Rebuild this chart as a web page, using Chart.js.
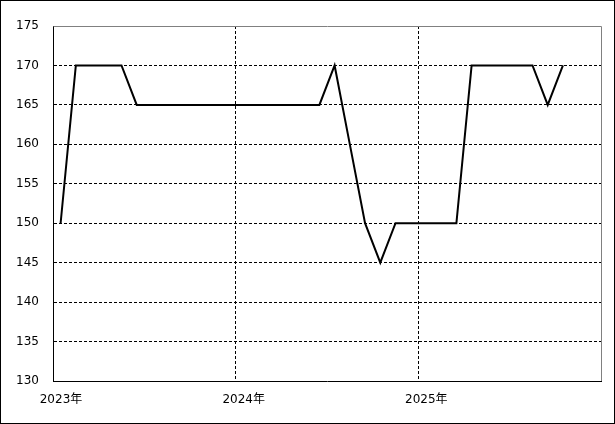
<!DOCTYPE html>
<html>
<head>
<meta charset="utf-8">
<script src="https://cdn.jsdelivr.net/npm/chart.js@4"></script>
<style>
  body { margin: 0; background: #fff; }
  #wrap { width: 615px; height: 424px; }
</style>
</head>
<body>
<div id="wrap"><canvas id="grafico" width="615" height="424"></canvas></div>
<script>
// meses (ene 2023 - oct 2025)
var meses = ["2023-01","2023-02","2023-03","2023-04","2023-05","2023-06","2023-07","2023-08","2023-09","2023-10","2023-11","2023-12",
             "2024-01","2024-02","2024-03","2024-04","2024-05","2024-06","2024-07","2024-08","2024-09","2024-10","2024-11","2024-12",
             "2025-01","2025-02","2025-03","2025-04","2025-05","2025-06","2025-07","2025-08","2025-09","2025-10"];
var valores = [150,170,170,170,170,165,165,165,165,165,165,165,
               165,165,165,165,165,165,170,160,150,145,150,150,
               150,150,150,170,170,170,170,170,165,170];
var anios = ["2023年","2024年","2025年"];

var puntos = [];
for (var i = 0; i < meses.length; i++) {
    puntos.push({x: i + 0.5, y: valores[i]}); // punto a mitad de mes
}

var fuente = {family: "'DejaVu Sans', 'Noto Sans CJK JP', sans-serif", size: 12};

var marco = { // borde exterior y borde gris arriba/derecha del area
    id: 'marco',
    beforeDatasetsDraw: function(chart) {
        var ctx = chart.ctx, a = chart.chartArea;
        ctx.save();
        ctx.strokeStyle = '#808080';
        ctx.lineWidth = 1;
        ctx.beginPath();
        ctx.moveTo(a.left + 0.5, a.top + 0.5);
        ctx.lineTo(a.right + 0.5, a.top + 0.5);
        ctx.lineTo(a.right + 0.5, a.bottom);
        ctx.stroke();
        ctx.restore();
    },
    afterDraw: function(chart) {
        var ctx = chart.ctx;
        ctx.save();
        ctx.strokeStyle = '#000';
        ctx.lineWidth = 1;
        ctx.strokeRect(0.5, 0.5, chart.width - 1, chart.height - 1);
        ctx.restore();
    }
};

const config = {
    type: 'line',
    data: {
        datasets: [{
            data: puntos,
            borderColor: '#000',
            borderWidth: 2,
            pointRadius: 0,
            tension: 0,
            fill: false
        }]
    },
    options: {
        responsive: false,
        animation: false,
        layout: {padding: {top: 26, right: 14, left: 0, bottom: 0}},
        plugins: {legend: {display: false}, tooltip: {enabled: false}},
        scales: {
            x: {
                type: 'linear',
                min: 0,
                max: 36,
                afterBuildTicks: function(s) {
                    s.ticks = [{value: 0}, {value: 12}, {value: 24}, {value: 36}];
                },
                afterFit: function(s) { s.height = 43; },
                ticks: {
                    color: '#000',
                    font: fuente,
                    padding: 12,
                    labelOffset: 8,
                    maxRotation: 0,
                    autoSkip: false,
                    callback: function(v) {
                        var k = v / 12;
                        return k < anios.length ? anios[k] : '';
                    }
                },
                grid: {
                    drawTicks: false,
                    color: function(c) {
                        return (c.tick && (c.tick.value === 12 || c.tick.value === 24)) ? '#000' : 'rgba(0,0,0,0)';
                    }
                },
                border: {color: '#000', width: 1, dash: [3, 2]}
            },
            y: {
                min: 130,
                max: 175,
                afterFit: function(s) { s.width = 53; },
                ticks: {
                    stepSize: 5,
                    color: '#000',
                    font: fuente,
                    padding: 14
                },
                grid: {
                    drawTicks: false,
                    color: function(c) {
                        return (c.tick && (c.tick.value === 175 || c.tick.value === 130)) ? 'rgba(0,0,0,0)' : '#000';
                    }
                },
                border: {color: '#000', width: 1, dash: [3, 2]}
            }
        }
    },
    plugins: [marco]
};

const grafico = new Chart(document.getElementById('grafico'), config);
</script>
</body>
</html>
